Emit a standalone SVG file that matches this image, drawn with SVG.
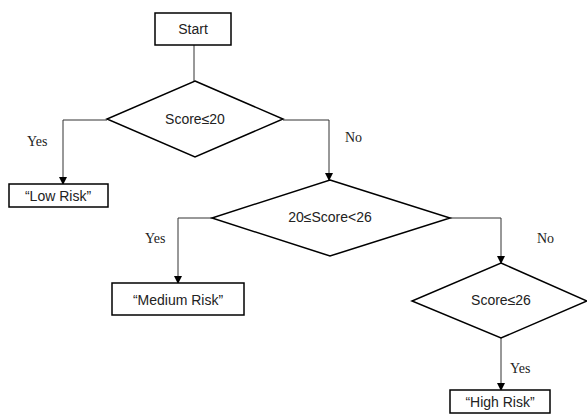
<svg xmlns="http://www.w3.org/2000/svg" width="587" height="418" viewBox="0 0 587 418">
<defs>
<marker id="arr" markerWidth="8" markerHeight="8" refX="7" refY="4" orient="auto" markerUnits="userSpaceOnUse">
<path d="M0,0 L8,4 L0,8 Z" fill="#000"/>
</marker>
<style>
.box{fill:#fff;stroke:#000;stroke-width:1.5}
.dia{fill:#fff;stroke:#000;stroke-width:1.5}
.con{fill:none;stroke:#333;stroke-width:1}
.t{font-family:"Liberation Sans",Arial,sans-serif;font-size:14px;fill:#222;text-anchor:middle}
.lbl{font-family:"Liberation Serif","Times New Roman",serif;font-size:14px;fill:#222}
</style>
</defs>
<rect width="587" height="418" fill="#fff"/>
<g id="connectors">
<line class="con" x1="194" y1="45" x2="194" y2="81"/>
<polyline class="con" points="107,120 63,120 63,184" marker-end="url(#arr)"/>
<polyline class="con" points="283,120 329,120 329,180" marker-end="url(#arr)"/>
<polyline class="con" points="212,218 178,218 178,283" marker-end="url(#arr)"/>
<polyline class="con" points="450,218 501,218 501,263" marker-end="url(#arr)"/>
<line class="con" x1="501" y1="338" x2="501" y2="390" marker-end="url(#arr)"/>
<text class="lbl" x="27" y="146">Yes</text>
<text class="lbl" x="345" y="142">No</text>
<text class="lbl" x="145" y="243">Yes</text>
<text class="lbl" x="537" y="243">No</text>
<text class="lbl" x="510" y="373">Yes</text>
</g>
<g id="start">
<rect class="box" x="155" y="13" width="76" height="32"/>
<text class="t" x="193" y="34">Start</text>
</g>
<g id="d1">
<polygon class="dia" points="195,81 283,119 195,157 107,119"/>
<text class="t" x="195" y="124">Score≤20</text>
</g>
<g id="low">
<rect class="box" x="9" y="184" width="99" height="23"/>
<text class="t" x="58" y="201">“Low Risk”</text>
</g>
<g id="d2">
<polygon class="dia" points="330,180 450,218 330,256 212,218"/>
<text class="t" x="330" y="222">20≤Score&lt;26</text>
</g>
<g id="medium">
<rect class="box" x="112" y="283" width="132" height="32"/>
<text class="t" x="178" y="305">“Medium Risk”</text>
</g>
<g id="d3">
<polygon class="dia" points="501,263 587,301 501,338 412,301"/>
<text class="t" x="501" y="305">Score≤26</text>
</g>
<g id="high">
<rect class="box" x="450" y="390" width="100" height="23"/>
<text class="t" x="500" y="407">“High Risk”</text>
</g>
</svg>
